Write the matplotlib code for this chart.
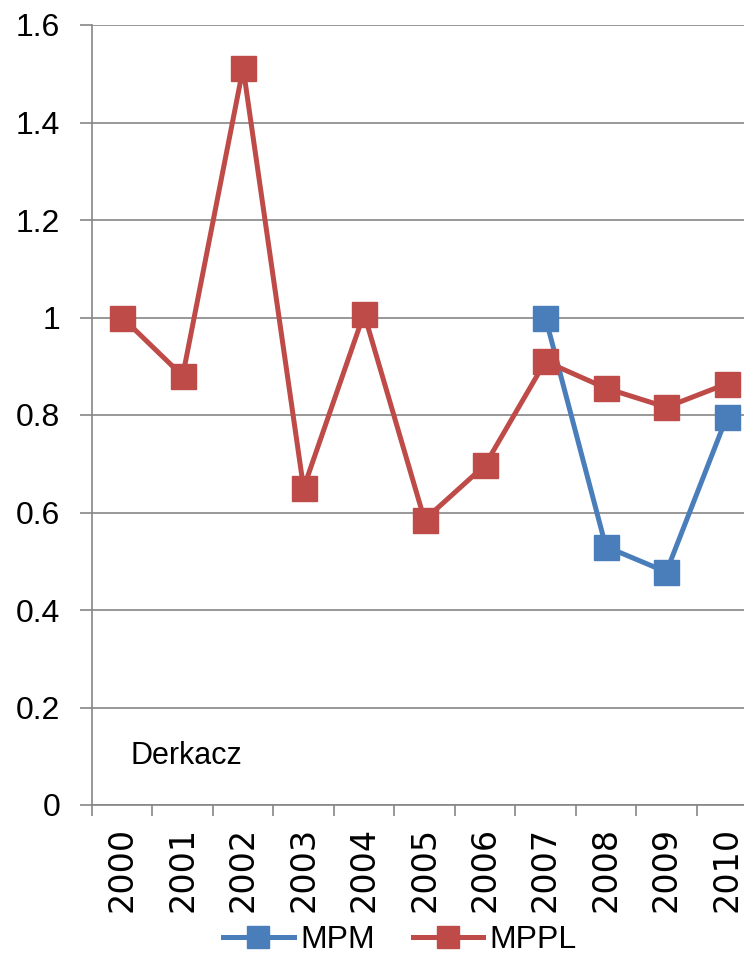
import matplotlib
matplotlib.use("Agg")
import matplotlib.pyplot as plt
from matplotlib.ticker import FixedLocator

# data
years = ["2000", "2001", "2002", "2003", "2004", "2005",
         "2006", "2007", "2008", "2009", "2010"]
mppl = [1.0, 0.88, 1.512, 0.65, 1.008, 0.585, 0.697, 0.91, 0.855, 0.816, 0.864]
mpm_years = ["2007", "2008", "2009", "2010"]
mpm = [1.0, 0.53, 0.478, 0.796]
y_ticks = [0, 0.2, 0.4, 0.6, 0.8, 1.0, 1.2, 1.4, 1.6]
y_labels = ["0", "0.2", "0.4", "0.6", "0.8", "1", "1.2", "1.4", "1.6"]

blue = "#4A7EBB"
red = "#BE4B48"
grid_col = "#868686"

plt.rcParams['font.family'] = ['Liberation Sans', 'DejaVu Sans']

fig = plt.figure(figsize=(7.44, 9.57), dpi=100)
W, H = 744, 957
left, right, top, bottom = 92, 757, 25, 805
ax = fig.add_axes([left / W, 1 - bottom / H, (right - left) / W, (bottom - top) / H])

x_all = list(range(len(years)))
x_mpm = [years.index(y) for y in mpm_years]

ax.plot(x_mpm, mpm, color=blue, lw=3.6, marker="s", ms=18, mec=blue, mfc=blue,
        label="MPM", zorder=3)
ax.plot(x_all, mppl, color=red, lw=3.6, marker="s", ms=18, mec=red, mfc=red,
        label="MPPL", zorder=3)

ax.set_xlim(-0.5, len(years) - 0.5)
ax.set_ylim(0, 1.6)
ax.set_yticks(y_ticks)
ax.set_yticklabels(y_labels)
ax.grid(axis="y", color=grid_col, lw=1.2)
ax.set_axisbelow(True)

ax.set_xticks(x_all)
ax.set_xticklabels(years, rotation=90, fontsize=24, family=['DejaVu Sans'])
ax.xaxis.set_minor_locator(FixedLocator([i - 0.5 for i in range(len(years) + 1)]))
ax.tick_params(axis="x", which="major", length=0, pad=16)
ax.tick_params(axis="x", which="minor", length=8, width=1.2, color=grid_col)
ax.tick_params(axis="y", length=9, width=1.2, color=grid_col, labelsize=23, pad=14)

for s in ["top", "right"]:
    ax.spines[s].set_visible(False)
for s in ["left", "bottom"]:
    ax.spines[s].set_color(grid_col)
    ax.spines[s].set_linewidth(1.2)

ax.text(0.13, 0.1, "Derkacz", fontsize=22, ha="left", va="center")

fig.legend(loc="center", bbox_to_anchor=(400 / W, 1 - 940 / H), ncol=2, frameon=False,
           fontsize=23, handlelength=2.2, columnspacing=1.2, handletextpad=0.2,
           markerscale=0.85)

fig.savefig("out.png", dpi=100)
